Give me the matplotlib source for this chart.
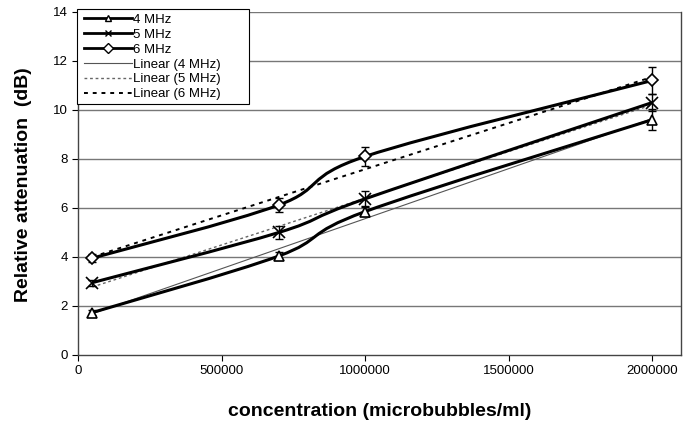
import numpy as np
import matplotlib
matplotlib.use("Agg")
import matplotlib.pyplot as plt
from matplotlib.path import Path
from matplotlib.patches import PathPatch, Rectangle
from matplotlib.lines import Line2D

plt.rcParams['font.family'] = ['Liberation Sans', 'DejaVu Sans']

concentration = [50000, 700000, 1000000, 2000000]
att_4mhz = [1.73, 4.04, 5.85, 9.6]
att_5mhz = [2.95, 5.0, 6.37, 10.3]
att_6mhz = [3.95, 6.12, 8.1, 11.2]
err_4mhz = [0.12, 0.15, 0.2, 0.42]
err_5mhz = [0.12, 0.25, 0.3, 0.35]
err_6mhz = [0.15, 0.27, 0.4, 0.55]
series_labels = ['4 MHz', '5 MHz', '6 MHz']
trend_labels = ['Linear (4 MHz)', 'Linear (5 MHz)', 'Linear (6 MHz)']
y_ticks = [0, 2, 4, 6, 8, 10, 12, 14]
x_ticks = [0, 500000, 1000000, 1500000, 2000000]

fig = plt.figure(figsize=(6.97, 4.24), dpi=100)
ax = fig.add_axes([0.112, 0.163, 0.865, 0.809])
ax.set_xlim(0, 2100000)
ax.set_ylim(0, 14)

for yv in y_ticks[1:]:
    ax.axhline(yv, color='#777777', lw=1.0, zorder=0)


def smooth_path(xs, ys):
    P = np.column_stack([xs, ys]).astype(float)
    n = len(P)
    verts = [P[0]]
    codes = [Path.MOVETO]
    for i in range(n - 1):
        p_prev = P[i - 1] if i > 0 else P[i]
        p_next2 = P[i + 2] if i + 2 < n else P[i + 1]
        c1 = P[i] + (P[i + 1] - p_prev) / 6.0
        c2 = P[i + 1] - (p_next2 - P[i]) / 6.0
        verts += [c1, c2, P[i + 1]]
        codes += [Path.CURVE4] * 3
    return Path(verts, codes)


x = np.array(concentration, dtype=float)
markers = ['^', 'x', 'D']
msizes = [7, 8, 6]
data = [att_4mhz, att_5mhz, att_6mhz]
errs = [err_4mhz, err_5mhz, err_6mhz]
trend_styles = [dict(color='#555555', lw=0.8, ls='-'),
                dict(color='#666666', lw=1.0, ls=(0, (2, 2))),
                dict(color='black', lw=1.4, ls=(0, (2, 2.5)))]

handles = []
for ys, er, m, ms, lab in zip(data, errs, markers, msizes, series_labels):
    ax.add_patch(PathPatch(smooth_path(x, ys), fill=False, ec='black', lw=2.2, zorder=3))
    ax.errorbar(x, ys, yerr=er, fmt='none', ecolor='black', elinewidth=1.0,
                capsize=3, capthick=1.0, zorder=4)
    ax.plot(x, ys, ls='none', marker=m, ms=ms, mfc='white', mec='black', mew=1.2, zorder=5)
    handles.append(Line2D([], [], color='black', lw=2, marker=m, ms=5, mfc='white', mec='black'))

for ys, st, lab in zip(data, trend_styles, trend_labels):
    k, b = np.polyfit(x, ys, 1)
    xx = np.array([x[0], x[-1]])
    ax.plot(xx, k * xx + b, zorder=2, **st)
    handles.append(Line2D([], [], **st))

# legend box (wider than its content, as in the reference)
ax.add_patch(Rectangle((-1 / 603, (355 - 104) / 343), 172 / 603, 95 / 343,
                       transform=ax.transAxes, fc='white', ec='black', lw=0.8,
                       zorder=9, clip_on=False))
labels = series_labels + trend_labels
leg = ax.legend(handles, labels, loc='upper left', bbox_to_anchor=(0.0, 1.012),
                frameon=False, fontsize=9.5,
                handlelength=3.6, handletextpad=0.15, labelspacing=0.2,
                borderpad=0.45, borderaxespad=0)
leg.set_zorder(10)

ax.set_xticks(x_ticks)
ax.set_xticklabels([str(v) for v in x_ticks])
ax.set_yticks(y_ticks)
ax.tick_params(labelsize=9.5, length=4, width=0.8, direction='out')
ax.spines['top'].set_visible(False)
for s in ['left', 'bottom', 'right']:
    ax.spines[s].set_color('#444444')
    ax.spines[s].set_linewidth(1.0)

fig.text(24 / 697, 1 - 185 / 424, 'Relative attenuation  (dB)', fontsize=14,
         fontweight='bold', rotation=90, ha='center', va='center')
fig.text(380 / 697, 1 - 411 / 424, 'concentration (microbubbles/ml)', fontsize=14,
         fontweight='bold', ha='center', va='center')

fig.savefig('out.png', dpi=100)
